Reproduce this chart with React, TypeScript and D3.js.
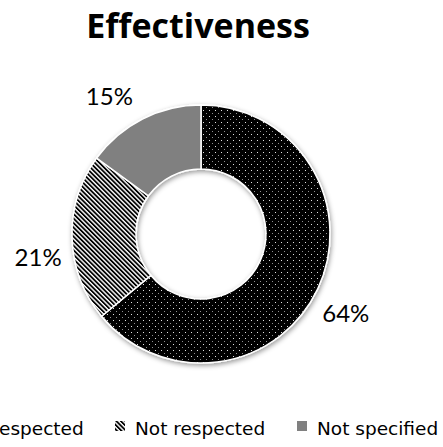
import React from "react";
import * as d3 from "d3";

const categories = ["Respected", "Not respected", "Not specified"];
const values = [64, 21, 15];
const valueLabels = ["64%", "21%", "15%"];
const titleText = "Effectiveness";

const W = 443;
const H = 447;
const cx = 201;
const cy = 234;
const rOuter = 129;
const rInner = 65;
const labelNudge: [number, number][] = [
  [0, 10],
  [-3, 17],
  [-19, 4],
];
const fills = ["url(#dots)", "url(#hatch)", "#808080"];

export default function App() {
  const pie = d3.pie<number>().sort(null).value((d) => d);
  const arcs = pie(values);
  const arc = d3.arc<d3.PieArcDatum<number>>().innerRadius(rInner).outerRadius(rOuter);
  const labelArc = d3.arc<d3.PieArcDatum<number>>().innerRadius(160).outerRadius(160);

  const legendX = [-33, 115, 297];

  return (
    <svg
      width={W}
      height={H}
      style={{ position: "absolute", left: 0, top: 0, background: "#fff" }}
    >
      <defs>
        <pattern id="dots" width="6" height="6" patternUnits="userSpaceOnUse">
          <rect width="6" height="6" fill="#000" />
          <rect x="2" y="2" width="1" height="1" fill="#e0e0e0" />
          <rect x="5" y="5" width="1" height="1" fill="#909090" />
        </pattern>
        <pattern
          id="hatch"
          width="3.2"
          height="3.2"
          patternUnits="userSpaceOnUse"
          patternTransform="rotate(-45)"
        >
          <rect width="3.2" height="3.2" fill="#fff" />
          <rect width="1.8" height="3.2" fill="#000" />
        </pattern>
        <filter id="shadow" x="-20%" y="-20%" width="140%" height="140%">
          <feDropShadow dx="1" dy="2" stdDeviation="2.5" floodColor="#000" floodOpacity="0.4" />
        </filter>
      </defs>
      <text
        x={198}
        y={38}
        textAnchor="middle"
        fontFamily="Open Sans"
        fontWeight="bold"
        fontSize={34}
        fill="#000"
        style={{ fontVariantLigatures: "none" }}
      >
        {titleText}
      </text>
      <g transform={`translate(${cx},${cy})`}>
        <g filter="url(#shadow)">
          {arcs.map((a, i) => (
            <path key={i} d={arc(a) || ""} fill={fills[i]} stroke="#fff" strokeWidth={1.5} />
          ))}
        </g>
        {arcs.map((a, i) => {
          const [x, y] = labelArc.centroid(a);
          return (
            <text
              key={i}
              x={x + labelNudge[i][0]}
              y={y + labelNudge[i][1]}
              textAnchor="middle"
              dominantBaseline="central"
              fontFamily="Lato"
              fontSize={24}
              fill="#000"
            >
              {valueLabels[i]}
            </text>
          );
        })}
      </g>
      <g>
        {categories.map((c, i) => (
          <g key={c} transform={`translate(${legendX[i]},421)`}>
            <rect width={10} height={10} fill={fills[i]} />
            <text x={20} y={14} fontFamily="DejaVu Sans" fontSize={18.5} fill="#000">
              {c}
            </text>
          </g>
        ))}
      </g>
    </svg>
  );
}
